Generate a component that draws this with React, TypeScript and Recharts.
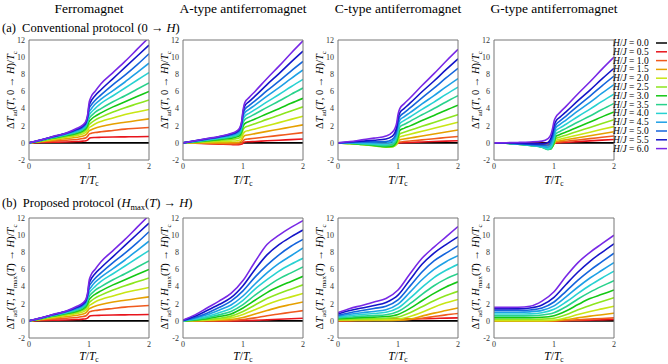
import React from 'react';
import { LineChart, Line, XAxis, YAxis } from 'recharts';

// field strengths H/J and their colours (legend order)
const H_VALUES = ['0.0', '0.5', '1.0', '1.5', '2.0', '2.5', '3.0', '3.5', '4.0', '4.5', '5.0', '5.5', '6.0'];
const H_COLORS = [
  '#000000', '#e8141c', '#f05a1e', '#e6a000', '#c8e614', '#8ce61e', '#14c814',
  '#28d28c', '#28d2d2', '#1ea0e6', '#1464dc', '#1414c8', '#7828e6'
];

const TITLES = ['Ferromagnet', 'A-type antiferromagnet', 'C-type antiferromagnet', 'G-type antiferromagnet'];

// temperature grids T/Tc
const T_FINE = [0, 0.2, 0.4, 0.6, 0.8, 0.9, 0.95, 0.98, 1.0, 1.03, 1.1, 1.2, 1.4, 1.6, 1.8, 2.0];
const T_SMOOTH = [0, 0.2, 0.4, 0.6, 0.8, 1.0, 1.2, 1.4, 1.6, 1.8, 2.0];

const X_MAJOR = [0, 1, 2];
const X_MINOR = [0, 0.2, 0.4, 0.6, 0.8, 1, 1.2, 1.4, 1.6, 1.8, 2];
const Y_MAJOR = [-2, 0, 2, 4, 6, 8, 10, 12];
const Y_MINOR = [-2, -1, 0, 1, 2, 3, 4, 5, 6, 7, 8, 9, 10, 11, 12];

// (a) conventional protocol, rows = H/J 0.0 ... 6.0, columns = T_FINE
const ferroConventional = [
  [0, 0, 0, 0, 0, 0, 0, 0, 0, 0, 0, 0, 0, 0, 0, 0],
  [0, 0.04, 0.08, 0.1, 0.15, 0.2, 0.25, 0.35, 0.5, 0.6, 0.63, 0.65, 0.68, 0.7, 0.72, 0.75],
  [0, 0.1, 0.2, 0.3, 0.4, 0.5, 0.6, 0.8, 1.0, 1.1, 1.2, 1.3, 1.45, 1.6, 1.7, 1.8],
  [0, 0.15, 0.32, 0.47, 0.65, 0.8, 0.95, 1.2, 1.4, 1.5, 1.7, 1.9, 2.2, 2.4, 2.6, 2.8],
  [0, 0.2, 0.42, 0.62, 0.85, 1.05, 1.25, 1.5, 1.75, 1.9, 2.2, 2.5, 2.9, 3.3, 3.6, 3.9],
  [0, 0.23, 0.5, 0.73, 1.0, 1.25, 1.5, 1.8, 2.1, 2.3, 2.65, 3.0, 3.6, 4.1, 4.55, 5.0],
  [0, 0.26, 0.56, 0.82, 1.12, 1.4, 1.7, 2.1, 2.45, 2.7, 3.1, 3.5, 4.2, 4.8, 5.4, 6.0],
  [0, 0.28, 0.61, 0.9, 1.25, 1.55, 1.9, 2.4, 2.8, 3.1, 3.55, 4.0, 4.8, 5.5, 6.25, 7.0],
  [0, 0.3, 0.65, 0.96, 1.35, 1.68, 2.05, 2.65, 3.2, 3.5, 4.0, 4.6, 5.5, 6.4, 7.3, 8.2],
  [0, 0.32, 0.68, 1.01, 1.43, 1.78, 2.18, 2.85, 3.6, 3.9, 4.5, 5.1, 6.1, 7.1, 8.2, 9.3],
  [0, 0.33, 0.71, 1.05, 1.52, 1.88, 2.3, 3.05, 4.0, 4.35, 4.95, 5.6, 6.8, 7.9, 9.1, 10.4],
  [0, 0.34, 0.73, 1.08, 1.6, 1.98, 2.42, 3.2, 4.3, 4.8, 5.5, 6.2, 7.5, 8.8, 10.1, 11.4],
  [0, 0.35, 0.75, 1.1, 1.7, 2.1, 2.55, 3.4, 4.6, 5.3, 6.0, 6.9, 8.2, 9.5, 10.9, 12.3]
];

const aTypeConventional = [
  [0, 0, 0, 0, 0, 0, 0, 0, 0, 0, 0, 0, 0, 0, 0, 0],
  [0, -0.05, -0.1, -0.15, -0.2, -0.22, -0.2, -0.15, -0.05, 0.1, 0.13, 0.16, 0.24, 0.3, 0.38, 0.45],
  [0, -0.03, -0.07, -0.1, -0.12, -0.12, -0.08, 0, 0.2, 0.4, 0.46, 0.54, 0.71, 0.87, 1.04, 1.2],
  [0, 0, 0, 0, 0.02, 0.05, 0.1, 0.3, 0.6, 0.85, 0.95, 1.08, 1.34, 1.59, 1.85, 2.1],
  [0, 0.05, 0.1, 0.15, 0.2, 0.25, 0.35, 0.6, 1.0, 1.3, 1.44, 1.62, 2.0, 2.36, 2.74, 3.1],
  [0, 0.08, 0.18, 0.28, 0.4, 0.5, 0.65, 1.0, 1.5, 1.8, 1.99, 2.23, 2.74, 3.22, 3.72, 4.2],
  [0, 0.12, 0.25, 0.38, 0.55, 0.7, 0.9, 1.35, 1.9, 2.25, 2.49, 2.78, 3.4, 3.99, 4.61, 5.2],
  [0, 0.15, 0.3, 0.47, 0.68, 0.85, 1.1, 1.6, 2.3, 2.7, 3.0, 3.37, 4.14, 4.88, 5.66, 6.4],
  [0, 0.17, 0.35, 0.55, 0.78, 0.98, 1.25, 1.9, 2.65, 3.1, 3.44, 3.87, 4.78, 5.64, 6.54, 7.4],
  [0, 0.2, 0.4, 0.62, 0.88, 1.1, 1.4, 2.1, 3.0, 3.5, 3.9, 4.4, 5.45, 6.45, 7.5, 8.5],
  [0, 0.22, 0.44, 0.67, 0.96, 1.22, 1.55, 2.3, 3.3, 3.9, 4.35, 4.91, 6.08, 7.2, 8.38, 9.5],
  [0, 0.24, 0.47, 0.71, 1.03, 1.32, 1.68, 2.45, 3.55, 4.3, 4.81, 5.45, 6.8, 8.08, 9.42, 10.7],
  [0, 0.25, 0.5, 0.75, 1.1, 1.4, 1.8, 2.6, 3.8, 4.7, 5.28, 6.0, 7.51, 8.95, 10.46, 11.9]
];

const cTypeConventional = [
  [0, 0, 0, 0, 0, 0, 0, 0, 0, 0, 0, 0, 0, 0, 0, 0],
  [0, -0.02, -0.05, -0.08, -0.1, -0.1, -0.08, -0.05, -0.02, 0, 0.02, 0.05, 0.1, 0.15, 0.2, 0.25],
  [0, -0.04, -0.1, -0.16, -0.22, -0.22, -0.18, -0.1, -0.02, 0.1, 0.15, 0.22, 0.35, 0.48, 0.62, 0.75],
  [0, -0.06, -0.15, -0.25, -0.35, -0.35, -0.28, -0.12, 0.05, 0.35, 0.44, 0.56, 0.8, 1.03, 1.27, 1.5],
  [0, -0.08, -0.2, -0.32, -0.45, -0.45, -0.35, -0.1, 0.2, 0.7, 0.84, 1.01, 1.36, 1.7, 2.06, 2.4],
  [0, -0.08, -0.2, -0.34, -0.5, -0.48, -0.3, 0, 0.4, 1.05, 1.23, 1.46, 1.93, 2.38, 2.85, 3.3],
  [0, -0.07, -0.18, -0.3, -0.45, -0.4, -0.15, 0.2, 0.7, 1.45, 1.69, 1.98, 2.6, 3.19, 3.81, 4.4],
  [0, -0.05, -0.12, -0.22, -0.32, -0.25, 0.05, 0.5, 1.05, 1.85, 2.14, 2.51, 3.27, 4.0, 4.77, 5.5],
  [0, -0.02, -0.06, -0.12, -0.18, -0.05, 0.3, 0.85, 1.45, 2.25, 2.59, 3.02, 3.91, 4.76, 5.65, 6.5],
  [0, 0.02, 0.02, 0, -0.02, 0.15, 0.55, 1.2, 1.9, 2.65, 3.04, 3.52, 4.54, 5.51, 6.53, 7.5],
  [0, 0.06, 0.1, 0.12, 0.15, 0.38, 0.8, 1.55, 2.35, 3.05, 3.5, 4.07, 5.25, 6.38, 7.57, 8.7],
  [0, 0.1, 0.2, 0.3, 0.45, 0.75, 1.2, 1.9, 2.8, 3.5, 4.0, 4.63, 5.96, 7.22, 8.54, 9.8],
  [0, 0.15, 0.35, 0.55, 0.8, 1.2, 1.7, 2.4, 3.3, 4.0, 4.55, 5.24, 6.69, 8.07, 9.52, 10.9]
];

const gTypeConventional = [
  [0, 0, 0, 0, 0, 0, 0, 0, 0, 0, 0, 0, 0, 0, 0, 0],
  [0, -0.01, -0.03, -0.05, -0.07, -0.08, -0.08, -0.07, -0.05, -0.02, 0.01, 0.06, 0.14, 0.23, 0.32, 0.4],
  [0, -0.02, -0.06, -0.1, -0.15, -0.17, -0.17, -0.15, -0.1, 0.05, 0.11, 0.19, 0.34, 0.49, 0.65, 0.8],
  [0, -0.03, -0.1, -0.17, -0.25, -0.3, -0.3, -0.25, -0.15, 0.15, 0.24, 0.36, 0.6, 0.83, 1.07, 1.3],
  [0, -0.04, -0.13, -0.23, -0.35, -0.45, -0.45, -0.35, -0.15, 0.3, 0.43, 0.59, 0.92, 1.24, 1.58, 1.9],
  [0, -0.05, -0.15, -0.28, -0.45, -0.6, -0.6, -0.4, -0.1, 0.5, 0.68, 0.9, 1.36, 1.8, 2.26, 2.7],
  [0, -0.05, -0.16, -0.3, -0.5, -0.75, -0.7, -0.35, 0, 0.75, 0.98, 1.26, 1.86, 2.43, 3.03, 3.6],
  [0, -0.05, -0.16, -0.3, -0.52, -0.8, -0.65, -0.2, 0.25, 1.05, 1.33, 1.69, 2.43, 3.14, 3.89, 4.6],
  [0, -0.05, -0.15, -0.28, -0.48, -0.7, -0.45, 0.1, 0.6, 1.4, 1.74, 2.17, 3.08, 3.94, 4.84, 5.7],
  [0, -0.04, -0.13, -0.24, -0.4, -0.5, -0.15, 0.45, 1.0, 1.75, 2.15, 2.66, 3.72, 4.73, 5.79, 6.8],
  [0, -0.03, -0.1, -0.18, -0.28, -0.25, 0.2, 0.85, 1.5, 2.1, 2.56, 3.13, 4.32, 5.46, 6.66, 7.8],
  [0, -0.02, -0.06, -0.1, -0.12, 0.05, 0.55, 1.3, 2.0, 2.5, 3.0, 3.62, 4.92, 6.16, 7.46, 8.7],
  [0, 0.02, 0.05, 0.1, 0.2, 0.5, 1.0, 1.8, 2.5, 3.0, 3.56, 4.26, 5.73, 7.13, 8.6, 10.0]
];

// (b) proposed protocol; for the ferromagnet both protocols coincide
const ferroProposed = ferroConventional;

// columns = T_SMOOTH
const aTypeProposed = [
  [0, 0, 0, 0, 0, 0, 0, 0, 0, 0, 0],
  [0, 0, 0, 0, 0, 0.02, 0.06, 0.12, 0.18, 0.24, 0.3],
  [0, 0, 0.01, 0.02, 0.05, 0.15, 0.35, 0.6, 0.8, 1.0, 1.2],
  [0, 0.02, 0.04, 0.08, 0.15, 0.4, 0.8, 1.2, 1.6, 1.9, 2.2],
  [0, 0.04, 0.09, 0.18, 0.35, 0.75, 1.3, 1.9, 2.4, 2.8, 3.2],
  [0, 0.06, 0.15, 0.3, 0.55, 1.1, 1.85, 2.6, 3.2, 3.7, 4.2],
  [0, 0.1, 0.25, 0.5, 0.8, 1.5, 2.4, 3.3, 4.0, 4.6, 5.2],
  [0, 0.15, 0.38, 0.7, 1.1, 1.9, 3.0, 4.0, 4.9, 5.6, 6.3],
  [0, 0.22, 0.52, 0.95, 1.45, 2.4, 3.7, 4.8, 5.8, 6.6, 7.3],
  [0.02, 0.3, 0.7, 1.25, 1.85, 2.9, 4.3, 5.6, 6.7, 7.6, 8.5],
  [0.04, 0.4, 0.9, 1.55, 2.3, 3.5, 5.1, 6.5, 7.7, 8.7, 9.5],
  [0.07, 0.55, 1.2, 1.9, 2.7, 4.1, 6.0, 7.7, 8.9, 9.8, 10.6],
  [0.1, 0.7, 1.5, 2.3, 3.2, 4.7, 6.9, 8.9, 10.0, 10.9, 11.7]
];

const cTypeProposed = [
  [0, 0, 0, 0, 0, 0, 0, 0, 0, 0, 0],
  [0, 0.05, 0.12, 0.2, 0.25, 0.25, 0.22, 0.25, 0.28, 0.32, 0.35],
  [0, 0.02, 0.05, 0.08, 0.1, 0.1, 0.15, 0.3, 0.5, 0.7, 0.85],
  [0.05, 0.05, 0.06, 0.06, 0.05, 0.07, 0.2, 0.55, 0.9, 1.2, 1.5],
  [0.1, 0.12, 0.13, 0.13, 0.14, 0.2, 0.5, 1.0, 1.6, 2.1, 2.5],
  [0.15, 0.2, 0.22, 0.25, 0.3, 0.45, 0.95, 1.65, 2.35, 2.95, 3.45],
  [0.25, 0.32, 0.38, 0.43, 0.5, 0.75, 1.45, 2.35, 3.2, 3.95, 4.55],
  [0.35, 0.45, 0.55, 0.62, 0.72, 1.1, 2.0, 3.1, 4.1, 4.9, 5.5],
  [0.45, 0.6, 0.75, 0.85, 1.0, 1.5, 2.65, 3.9, 5.05, 5.9, 6.6],
  [0.55, 0.77, 0.95, 1.1, 1.3, 1.95, 3.35, 4.8, 6.0, 6.9, 7.6],
  [0.65, 0.95, 1.2, 1.45, 1.7, 2.45, 4.05, 5.7, 7.0, 7.9, 8.75],
  [0.8, 1.2, 1.5, 1.8, 2.15, 3.0, 4.8, 6.6, 7.9, 8.9, 9.8],
  [0.95, 1.45, 1.8, 2.2, 2.6, 3.6, 5.5, 7.3, 8.6, 9.8, 11.0]
];

const gTypeProposed = [
  [0, 0, 0, 0, 0, 0, 0, 0, 0, 0, 0],
  [0, 0, 0, 0, 0, 0, 0.02, 0.05, 0.08, 0.12, 0.15],
  [0, 0, 0, 0, 0, 0, 0.05, 0.12, 0.2, 0.28, 0.35],
  [0, 0, 0, 0, 0, 0.02, 0.15, 0.35, 0.55, 0.72, 0.9],
  [0.03, 0.03, 0.03, 0.03, 0.03, 0.08, 0.35, 0.75, 1.1, 1.4, 1.7],
  [0.18, 0.18, 0.18, 0.18, 0.2, 0.3, 0.7, 1.3, 1.8, 2.25, 2.7],
  [0.38, 0.38, 0.38, 0.38, 0.42, 0.6, 1.15, 1.9, 2.6, 3.1, 3.6],
  [0.58, 0.58, 0.58, 0.6, 0.68, 0.95, 1.65, 2.55, 3.35, 4.05, 4.7],
  [0.8, 0.8, 0.8, 0.82, 0.95, 1.35, 2.2, 3.2, 4.15, 5.0, 5.8],
  [1.0, 1.0, 1.0, 1.05, 1.22, 1.75, 2.8, 3.95, 5.0, 5.9, 6.8],
  [1.2, 1.2, 1.2, 1.27, 1.5, 2.2, 3.45, 4.75, 5.9, 6.9, 7.9],
  [1.4, 1.4, 1.4, 1.5, 1.85, 2.75, 4.25, 5.7, 6.95, 8.0, 9.0],
  [1.57, 1.57, 1.58, 1.7, 2.3, 3.4, 5.2, 6.8, 8.0, 9.0, 10.0]
];

const PW = 120;
const PH = 120;
const COL_X = [29, 183, 338, 494];
const ROW_Y = [40, 218];
const FONT = "'Liberation Serif', 'DejaVu Serif', serif";
const AXIS = '#777';
const TOP_PAD = 6;

const PANELS = [
  { row: 0, col: 0, rows: ferroConventional, grid: T_FINE },
  { row: 0, col: 1, rows: aTypeConventional, grid: T_FINE },
  { row: 0, col: 2, rows: cTypeConventional, grid: T_FINE },
  { row: 0, col: 3, rows: gTypeConventional, grid: T_FINE },
  { row: 1, col: 0, rows: ferroProposed, grid: T_FINE },
  { row: 1, col: 1, rows: aTypeProposed, grid: T_SMOOTH },
  { row: 1, col: 2, rows: cTypeProposed, grid: T_SMOOTH },
  { row: 1, col: 3, rows: gTypeProposed, grid: T_SMOOTH }
];

const tickStyle = { fontSize: 8, fill: '#333', fontFamily: FONT };

const Panel = ({ x, y, rows, grid }: { x: number; y: number; rows: number[][]; grid: number[] }) => {
  const data = grid.map((t, i) => {
    const d: Record<string, number> = { t };
    rows.forEach((r, k) => {
      d['h' + k] = r[i];
    });
    return d;
  });
  const xProps = { type: 'number' as const, dataKey: 't', domain: [0, 2], allowDataOverflow: true, interval: 0 as const };
  const yProps = { type: 'number' as const, domain: [-2, 12], allowDataOverflow: true, interval: 0 as const };
  return (
    <div style={{ position: 'absolute', left: x - 30, top: y - TOP_PAD }}>
      <LineChart width={30 + PW + 5} height={TOP_PAD + PH + 18} data={data} margin={{ top: TOP_PAD, right: 5, left: 0, bottom: 0 }}>
        <XAxis xAxisId="x" {...xProps} ticks={X_MAJOR} height={18} tickLine={false} tickSize={0} tickMargin={3}
          axisLine={{ stroke: AXIS }} tick={tickStyle} />
        <XAxis xAxisId="xb1" {...xProps} ticks={X_MAJOR} mirror tickSize={3} tick={false} axisLine={false} tickLine={{ stroke: AXIS }} />
        <XAxis xAxisId="xb2" {...xProps} ticks={X_MINOR} mirror tickSize={1.5} tick={false} axisLine={false} tickLine={{ stroke: AXIS }} />
        <XAxis xAxisId="xt1" {...xProps} orientation="top" ticks={X_MAJOR} mirror tickSize={3} tick={false} axisLine={{ stroke: AXIS }} tickLine={{ stroke: AXIS }} />
        <XAxis xAxisId="xt2" {...xProps} orientation="top" ticks={X_MINOR} mirror tickSize={1.5} tick={false} axisLine={false} tickLine={{ stroke: AXIS }} />
        <YAxis yAxisId="y" {...yProps} ticks={Y_MAJOR} width={30} tickLine={false} tickSize={0} tickMargin={4}
          axisLine={{ stroke: AXIS }} tick={tickStyle} />
        <YAxis yAxisId="yl1" {...yProps} ticks={Y_MAJOR} mirror tickSize={3} tick={false} axisLine={false} tickLine={{ stroke: AXIS }} />
        <YAxis yAxisId="yl2" {...yProps} ticks={Y_MINOR} mirror tickSize={1.5} tick={false} axisLine={false} tickLine={{ stroke: AXIS }} />
        <YAxis yAxisId="yr1" {...yProps} orientation="right" ticks={Y_MAJOR} mirror tickSize={3} tick={false} axisLine={{ stroke: AXIS }} tickLine={{ stroke: AXIS }} />
        <YAxis yAxisId="yr2" {...yProps} orientation="right" ticks={Y_MINOR} mirror tickSize={1.5} tick={false} axisLine={false} tickLine={{ stroke: AXIS }} />
        {rows.map((_, k) => (
          <Line
            key={k}
            xAxisId="x"
            yAxisId="y"
            type="monotone"
            dataKey={'h' + k}
            stroke={H_COLORS[k]}
            strokeWidth={1.6}
            dot={false}
            isAnimationActive={false}
          />
        ))}
      </LineChart>
    </div>
  );
};

const YLabel = ({ cx, cy, proposed }: { cx: number; cy: number; proposed: boolean }) => (
  <text transform={`translate(${cx},${cy}) rotate(-90)`} textAnchor="middle" fontSize={10.5}>
    <tspan>Δ</tspan>
    <tspan fontStyle="italic">T</tspan>
    <tspan fontSize={7} dy={2.5}>ad</tspan>
    <tspan dy={-2.5}>(</tspan>
    <tspan fontStyle="italic">T</tspan>
    <tspan>, </tspan>
    {proposed ? (
      <>
        <tspan fontStyle="italic">H</tspan>
        <tspan fontSize={7} dy={2.5}>max</tspan>
        <tspan dy={-2.5}>(</tspan>
        <tspan fontStyle="italic">T</tspan>
        <tspan>) → </tspan>
      </>
    ) : (
      <tspan>0 → </tspan>
    )}
    <tspan fontStyle="italic">H</tspan>
    <tspan>)/</tspan>
    <tspan fontStyle="italic">T</tspan>
    <tspan fontSize={7} dy={2.5}>c</tspan>
  </text>
);

const XLabel = ({ cx, y }: { cx: number; y: number }) => (
  <text x={cx} y={y} textAnchor="middle" fontSize={11.5}>
    <tspan fontStyle="italic">T</tspan>
    <tspan>/</tspan>
    <tspan fontStyle="italic">T</tspan>
    <tspan fontSize={7.5} dy={2}>c</tspan>
  </text>
);

const App = () => {
  return (
    <div style={{ position: 'absolute', left: 0, top: 0, width: 668, height: 364, background: '#fff', fontFamily: FONT }}>
      {PANELS.map((p, i) => (
        <Panel key={i} x={COL_X[p.col]} y={ROW_Y[p.row]} rows={p.rows} grid={p.grid} />
      ))}
      <svg width={668} height={364} style={{ position: 'absolute', left: 0, top: 0, pointerEvents: 'none' }} fontFamily={FONT} fill="#000">
        {TITLES.map((t, i) => (
          <text key={t} x={COL_X[i] + PW / 2} y={13} textAnchor="middle" fontSize={13.5}>{t}</text>
        ))}
        <text x={2} y={32} fontSize={12.5} xmlSpace="preserve">
          <tspan>(a)  Conventional protocol (0 → </tspan>
          <tspan fontStyle="italic">H</tspan>
          <tspan>)</tspan>
        </text>
        <text x={2} y={207} fontSize={12.5} xmlSpace="preserve">
          <tspan>(b)  Proposed protocol (</tspan>
          <tspan fontStyle="italic">H</tspan>
          <tspan fontSize={8.5} dy={3}>max</tspan>
          <tspan dy={-3}>(</tspan>
          <tspan fontStyle="italic">T</tspan>
          <tspan>) → </tspan>
          <tspan fontStyle="italic">H</tspan>
          <tspan>)</tspan>
        </text>
        {COL_X.map((cx) =>
          ROW_Y.map((ry, r) => (
            <React.Fragment key={`${cx}-${ry}`}>
              <YLabel cx={cx - 15} cy={r === 0 ? ry + 50 : ry + 59} proposed={r === 1} />
              <XLabel cx={cx + PW / 2} y={ry + PH + (r === 0 ? 24 : 22)} />
            </React.Fragment>
          ))
        )}
        {H_VALUES.map((h, k) => {
          const cy = 43 + k * 8.8;
          return (
            <g key={h}>
              <text x={613} y={cy + 3} fontSize={9.5}>
                <tspan fontStyle="italic">H</tspan>
                <tspan>/</tspan>
                <tspan fontStyle="italic">J</tspan>
                <tspan>{` = ${h}`}</tspan>
              </text>
              <line x1={656} x2={667} y1={cy} y2={cy} stroke={H_COLORS[k]} strokeWidth={1.5} />
            </g>
          );
        })}
      </svg>
    </div>
  );
};

export default App;
